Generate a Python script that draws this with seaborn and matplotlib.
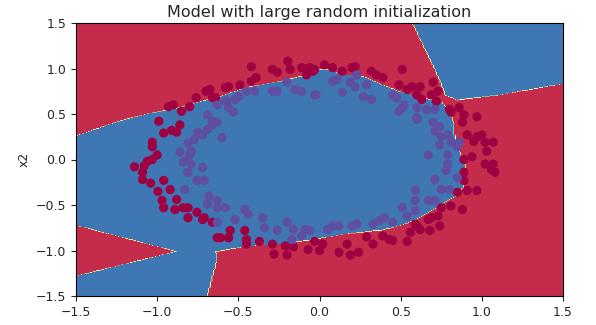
import numpy as np
import matplotlib
matplotlib.use("Agg")
import matplotlib.pyplot as plt
from matplotlib.path import Path
import seaborn as sns

# ---- data ----
outer_x = [-0.675, -0.70, -0.66, -0.76, -0.80, -0.85, -0.90, -0.93, -0.99, -0.86, -0.91, -0.88, -0.96,
           -1.03, -1.03, -1.00, -1.03, -1.06,
           -0.195, -0.42, -0.29, -0.26, -0.18, -0.11, -0.06, -0.04, -0.08, -0.39, -0.42, -0.49, -0.56, -0.58, -0.64,
           0.03, 0.08, 0.14, 0.20, 0.22, 0.32, 0.35, 0.39, 0.51, 0.49, 0.54, 0.57, 0.60, -0.03,
           0.62, 0.70, 0.69, 0.73, 0.63, 0.72, 0.80, 0.81, 0.86, 0.89, 0.88, 0.97, 0.91, 0.97, 1.00, 0.95, 1.02,
           1.07, 1.03, 0.94, 0.89,
           -1.14, -1.08, -1.09, -1.09, -1.04, -0.96, -0.995, -0.92, -0.97, -0.96, -0.88, -0.89, -0.84, -0.81,
           -0.81, -0.755, -0.71, -0.66, -0.63, -0.72,
           -0.61, -0.55, -0.56, -0.46, -0.45, -0.45, -0.37, -0.29, -0.28, -0.21, -0.16, -0.20, -0.07, -0.03,
           0.02, 0.00, 0.12, 0.17, 0.19, 0.24, 0.29, 0.33, 0.39, 0.43, 0.45, 0.54, 0.56, 0.59,
           1.02, 1.07, 1.06, 1.08, 0.89, 0.89, 0.85, 0.91, 0.97, 0.81, 0.88, 0.75, 0.73, 0.69, 0.67, 0.74,
           0.60, 0.62, 0.68]
outer_y = [0.77, 0.75, 0.68, 0.68, 0.58, 0.53, 0.60, 0.58, 0.42, 0.38, 0.32, 0.30, 0.29,
           0.19, 0.14, 0.05, 0.00, -0.02,
           1.08, 1.02, 0.99, 0.96, 0.99, 1.01, 1.01, 0.97, 0.93, 0.90, 0.86, 0.82, 0.80, 0.79, 0.68,
           1.04, 1.01, 0.97, 1.01, 1.02, 0.97, 0.93, 0.90, 0.99, 0.82, 0.77, 0.80, 0.71, 0.99,
           0.80, 0.85, 0.71, 0.75, 0.66, 0.64, 0.55, 0.52, 0.57, 0.49, 0.41, 0.47, 0.27, 0.25, 0.27, 0.20, 0.19,
           0.19, 0.09, 0.03, 0.00,
           -0.08, -0.07, -0.14, -0.22, -0.26, -0.23, -0.35, -0.33, -0.45, -0.53, -0.44, -0.55, -0.53, -0.53,
           -0.64, -0.58, -0.64, -0.69, -0.86, -0.66,
           -0.86, -0.78, -0.86, -0.78, -0.88, -0.93, -0.90, -0.93, -1.04, -0.95, -0.96, -1.05, -0.99, -0.90,
           -0.93, -1.00, -1.02, -0.93, -1.05, -1.02, -0.85, -0.93, -0.84, -0.88, -0.89, -0.90, -0.80, -0.71,
           -0.05, -0.05, -0.11, -0.14, -0.14, -0.23, -0.36, -0.34, -0.34, -0.51, -0.55, -0.53, -0.62, -0.64,
           -0.66, -0.73, -0.73, -0.77, -0.78]

inner_x = [-0.69, -0.66, -0.72, -0.77, -0.81, -0.79, -0.86, -0.83, -0.63, -0.69,
           -0.75, -0.66, -0.60, -0.57, -0.53, -0.52, -0.80,
           -0.20, -0.26, -0.29, -0.40, -0.45, -0.15, -0.11, -0.03, -0.50, -0.58, -0.56, -0.63,
           0.08, 0.11, 0.19, 0.22, 0.23, 0.29, 0.14, -0.02, 0.27, 0.32, 0.45, 0.475, 0.51, 0.52, 0.49, 0.60,
           0.60, 0.66, 0.71, 0.60, 0.70, 0.74, 0.71, 0.75, 0.79, 0.81, 0.74, 0.85, 0.67, 0.79, 0.86,
           -0.84, -0.79, -0.72, -0.81, -0.755, -0.71, -0.83, -0.68, -0.69, -0.63,
           -0.63, -0.58, -0.63, -0.52, -0.46, -0.44, -0.35, -0.34, -0.26, -0.20, -0.16, -0.17, -0.09, -0.06, -0.11,
           0.05, 0.08, 0.12, 0.20, 0.23, 0.33, 0.37, 0.40, 0.45, 0.51, 0.54, 0.59, 0.59, 0.59,
           0.79, 0.78, 0.85, 0.71, 0.75, 0.80, 0.67, 0.71]
inner_y = [0.49, 0.38, 0.27, 0.22, 0.18, 0.09, 0.08, -0.02, 0.60, 0.33,
           0.30, 0.42, 0.24, 0.64, 0.52, 0.66, 0.05,
           0.85, 0.75, 0.75, 0.75, 0.75, 0.77, 0.75, 0.71, 0.69, 0.64, 0.57, 0.41,
           0.86, 0.88, 0.85, 0.80, 0.93, 0.82, 0.74, 0.71, 0.69, 0.66, 0.71, 0.68, 0.57, 0.60, 0.53, 0.46,
           0.57, 0.55, 0.55, 0.44, 0.41, 0.36, 0.31, 0.25, 0.27, 0.19, 0.16, 0.14, 0.05, 0.05, 0.19,
           -0.03, -0.05, -0.09, -0.14, -0.23, -0.23, -0.33, -0.40, -0.49, -0.53,
           -0.45, -0.53, -0.69, -0.66, -0.55, -0.60, -0.64, -0.75, -0.78, -0.69, -0.77, -0.88, -0.77, -0.78, -0.84,
           -0.77, -0.73, -0.73, -0.73, -0.71, -0.71, -0.67, -0.64, -0.69, -0.53, -0.62, -0.56, -0.45, -0.34,
           -0.05, -0.12, -0.20, -0.22, -0.33, -0.33, -0.45, -0.45]

# decision regions (class 0 = red), vertices in data units
# (outer vertices continue a little past the visible [-1.5, 1.5] window)
red_main = [(-1.6, 1.6), (0.55, 1.6), (0.73, 0.93), (0.78, 0.71), (0.85, 0.66), (1.09, 0.71), (1.6, 0.87),
            (1.6, -1.6), (-0.71, -1.6), (-0.63, -1.07), (-0.645, -1.01), (-0.44, -0.945), (-0.23, -0.92),
            (-0.03, -0.87), (0.17, -0.81), (0.38, -0.77), (0.48, -0.73), (0.59, -0.66), (0.69, -0.56),
            (0.75, -0.49), (0.82, -0.42), (0.88, -0.31), (0.90, -0.16), (0.89, -0.05), (0.88, 0.0),
            (0.85, 0.13), (0.83, 0.27), (0.82, 0.42), (0.79, 0.55), (0.74, 0.64), (0.67, 0.66), (0.59, 0.69),
            (0.48, 0.75), (0.38, 0.82), (0.28, 0.90), (0.20, 0.93), (0.14, 0.93), (0.09, 0.96), (0.05, 0.99),
            (0.0, 0.99), (-0.11, 0.91), (-0.23, 0.86), (-0.44, 0.79), (-0.61, 0.69), (-0.76, 0.62),
            (-0.90, 0.55), (-1.03, 0.51), (-1.23, 0.42), (-1.6, 0.19)]
red_triangle = [(-1.6, -0.67), (-0.87, -1.01), (-1.6, -1.33)]

# ---- figure ----
sns.set_style("ticks")
plt.rcParams['font.family'] = ['DejaVu Sans']
fig = plt.figure(figsize=(5.96, 3.25), dpi=100)
ax = fig.add_axes([76 / 596, 1 - 296 / 325, 487 / 596, 273 / 325])

h = 0.01
xx, yy = np.meshgrid(np.arange(-1.7, 1.7, h), np.arange(-1.7, 1.7, h))
pts = np.c_[xx.ravel(), yy.ravel()]
Z = np.ones(len(pts))
for poly in (red_main, red_triangle):
    Z[Path(poly).contains_points(pts)] = 0
Z = Z.reshape(xx.shape)
ax.contourf(xx, yy, Z, cmap=plt.cm.Spectral)

X = np.array(outer_x + inner_x)
Y = np.array(outer_y + inner_y)
lab = np.array([0] * len(outer_x) + [1] * len(inner_x))
cmap = plt.cm.Spectral
sns.scatterplot(x=X, y=Y, hue=lab, palette={0: cmap(0.0), 1: cmap(1.0)}, s=44,
                linewidth=0, legend=False, ax=ax)

ax.set_xlim(-1.5, 1.5)
ax.set_ylim(-1.5, 1.5)
ax.set_xticks(np.arange(-1.5, 1.51, 0.5))
ax.set_yticks(np.arange(-1.5, 1.51, 0.5))
ax.set_title("Model with large random initialization", fontsize=11.5, pad=4)
ax.set_xlabel("x1", fontsize=9)
ax.set_ylabel("x2", fontsize=9)
ax.tick_params(labelsize=9)
for s in ax.spines.values():
    s.set_visible(True)
    s.set_color('black')
    s.set_linewidth(0.8)

fig.savefig("out.png", dpi=100)
